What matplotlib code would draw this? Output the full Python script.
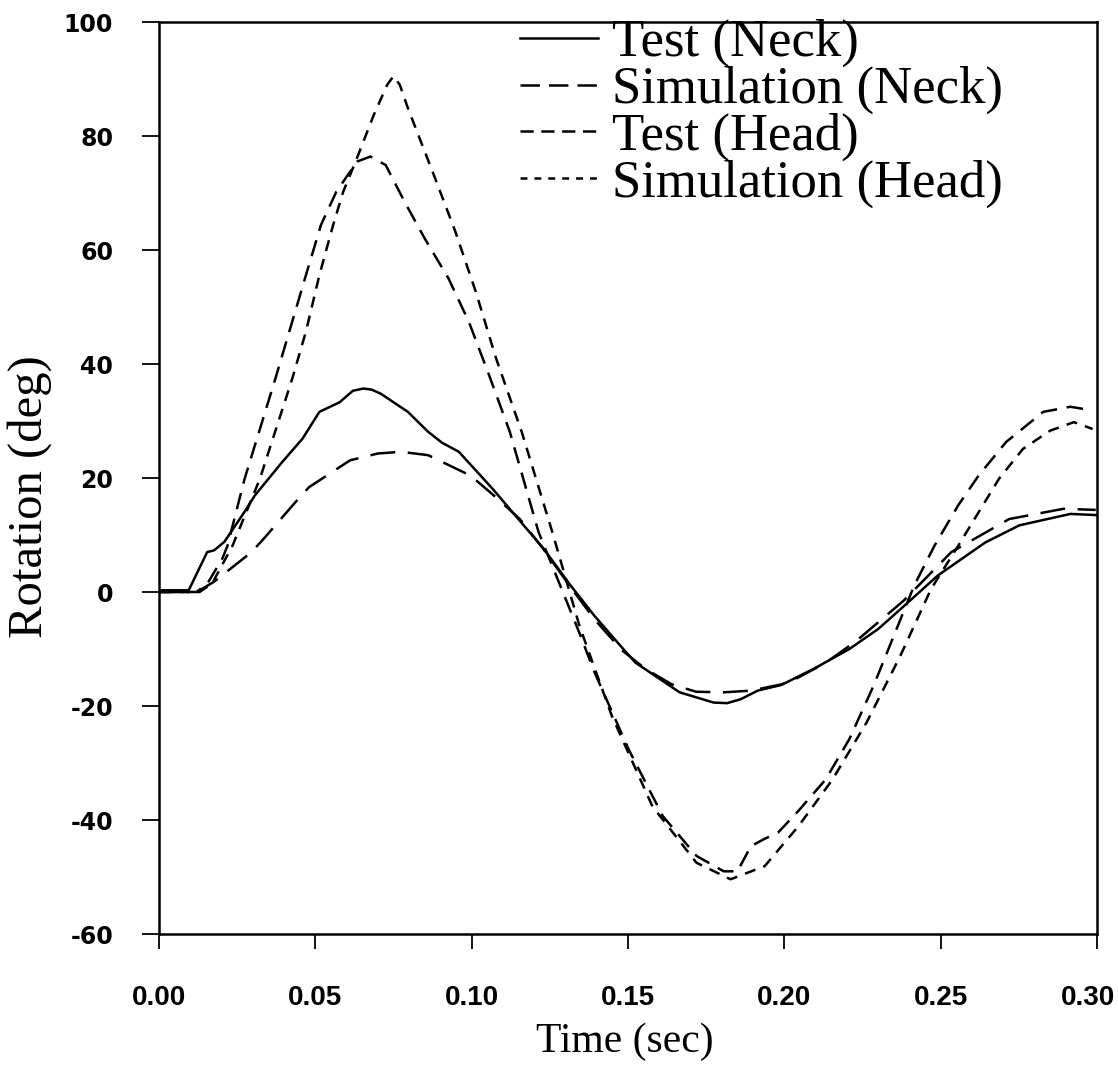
import numpy as np
import matplotlib
matplotlib.use("Agg")
import matplotlib.pyplot as plt
import matplotlib.transforms as mtransforms
from matplotlib.font_manager import FontProperties
from matplotlib.lines import Line2D

plt.rcParams['lines.scale_dashes'] = False

# ---------------- data ----------------
test_neck_t = [0.000, 0.0095, 0.0154, 0.0176, 0.0209, 0.0274, 0.0306, 0.0394, 0.0459, 0.0513,
               0.0578, 0.0620, 0.0654, 0.0680, 0.0709, 0.0796, 0.0861, 0.0905, 0.0959, 0.1067,
               0.1154, 0.1230, 0.1317, 0.1393, 0.1480, 0.1524, 0.1665, 0.1774, 0.1817, 0.1861,
               0.1915, 0.1991, 0.2100, 0.2208, 0.2300, 0.2382, 0.2491, 0.2643, 0.2752, 0.2915,
               0.2996]
test_neck_v = [0.3, 0.3, 7.0, 7.3, 8.8, 14.1, 16.9, 22.8, 26.9, 31.6,
               33.3, 35.3, 35.7, 35.5, 34.8, 31.6, 28.1, 26.2, 24.6, 18.1,
               12.5, 7.6, 1.1, -4.2, -9.7, -12.4, -17.6, -19.4, -19.5, -18.8,
               -17.3, -16.3, -13.3, -10.0, -6.5, -2.5, 2.9, 8.7, 11.7, 13.7,
               13.5]

sim_neck_t = [0.000, 0.0121, 0.0176, 0.0296, 0.0339, 0.0437, 0.0480, 0.0611, 0.0700, 0.0774,
              0.0861, 0.0997, 0.1080, 0.1154, 0.1230, 0.1317, 0.1393, 0.1480, 0.1556, 0.1640,
              0.1718, 0.1806, 0.1894, 0.1991, 0.2024, 0.2130, 0.2230, 0.2382, 0.2534, 0.2719,
              0.2893, 0.2996]
sim_neck_v = [0.0, 0.0, 1.8, 7.0, 9.6, 15.8, 18.4, 23.1, 24.3, 24.6,
              24.0, 20.4, 16.5, 12.8, 7.5, 0.8, -4.8, -10.2, -13.5, -16.2,
              -17.5, -17.6, -17.3, -16.2, -15.6, -12.5, -8.6, -1.5, 7.0, 12.8,
              14.6, 14.4]

test_head_t = [0.000, 0.0120, 0.0155, 0.0202, 0.0219, 0.0274, 0.0372, 0.0470, 0.0518, 0.0567,
               0.0633, 0.0676, 0.0725, 0.0785, 0.0850, 0.0926, 0.0991, 0.1056, 0.1122, 0.1214,
               0.1344, 0.1393, 0.1502, 0.1611, 0.1719, 0.1806, 0.1850, 0.1893, 0.1937, 0.1980,
               0.2045, 0.2132, 0.2208, 0.2285, 0.2350, 0.2415, 0.2480, 0.2556, 0.2621, 0.2709,
               0.2828, 0.2915, 0.2980]
test_head_v = [0.0, 0.0, 1.5, 5.8, 8.1, 19.9, 37.4, 55.6, 64.4, 70.2,
               75.5, 76.4, 74.9, 68.5, 62.0, 55.0, 47.4, 38.0, 28.1, 10.5,
               -7.1, -14.1, -27.6, -39.3, -46.3, -49.0, -49.0, -44.6, -43.3, -42.2,
               -38.4, -32.9, -25.8, -16.5, -7.7, 1.1, 8.1, 15.2, 20.4, 26.3,
               31.6, 32.5, 31.9]

sim_head_t = [0.000, 0.0130, 0.0170, 0.0235, 0.0323, 0.0426, 0.0470, 0.0513, 0.0557, 0.0589,
              0.0633, 0.0687, 0.0730, 0.0750, 0.0770, 0.0796, 0.0883, 0.0948, 0.1013, 0.1078,
              0.1160, 0.1258, 0.1345, 0.1448, 0.1578, 0.1719, 0.1828, 0.1937, 0.2045, 0.2154,
              0.2263, 0.2371, 0.2469, 0.2556, 0.2687, 0.2763, 0.2850, 0.2926, 0.2986]
sim_head_v = [0.0, 0.0, 1.5, 8.1, 19.9, 37.4, 45.7, 55.6, 64.4, 70.2,
              76.1, 83.7, 89.0, 90.5, 89.0, 84.9, 72.6, 63.2, 52.7, 41.0,
              28.1, 10.5, -6.0, -21.7, -37.6, -47.5, -50.4, -48.1, -41.1, -32.9,
              -22.9, -11.2, 0.5, 8.1, 19.9, 25.1, 28.3, 29.8, 28.6]

series_labels = ["Test (Neck)", "Simulation (Neck)", "Test (Head)", "Simulation (Head)"]
x_ticks = [0.00, 0.05, 0.10, 0.15, 0.20, 0.25, 0.30]
x_tick_labels = ["0.00", "0.05", "0.10", "0.15", "0.20", "0.25", "0.30"]
y_ticks = [-60, -40, -20, 0, 20, 40, 60, 80, 100]
y_tick_labels = ["-60", "-40", "-20", "0", "20", "40", "60", "80", "100"]

# ---------------- figure ----------------
W, H = 1118, 1070
fig = plt.figure(figsize=(W / 100, H / 100), dpi=100)
L, R, T, B = 159, 1097, 22, 934
ax = fig.add_axes([L / W, 1 - B / H, (R - L) / W, (B - T) / H])

lw = 1.8
styles = [dict(linestyle='-'),
          dict(dashes=(18, 9)),
          dict(dashes=(12, 7)),
          dict(dashes=(8, 6))]
series = [(test_neck_t, test_neck_v), (sim_neck_t, sim_neck_v),
          (test_head_t, test_head_v), (sim_head_t, sim_head_v)]
for (tt, vv), st in zip(series, styles):
    ax.plot(tt, vv, color='black', lw=lw, **st)

ax.set_xlim(0, 0.30)
ax.set_ylim(-60, 100)
ax.set_xticks(x_ticks)
ax.set_xticklabels(x_tick_labels)
ax.set_yticks(y_ticks)
ax.set_yticklabels(y_tick_labels)

for sp in ax.spines.values():
    sp.set_linewidth(1.8)

ax.tick_params(axis='y', direction='out', length=12, width=1.3, pad=21)
ax.tick_params(axis='x', direction='out', length=11, width=1.3, pad=26)
for lab in ax.get_yticklabels():
    lab.set_fontproperties(FontProperties(family='DejaVu Sans', weight='bold', size=17))
for lab in ax.get_xticklabels():
    lab.set_fontproperties(FontProperties(family='Liberation Sans', weight='bold', size=20))
# keep the last x tick label inside the figure, as in the reference
last = ax.xaxis.get_major_ticks()[-1].label1
last.set_transform(last.get_transform() +
                   mtransforms.ScaledTranslation(-9 / 100, 0, fig.dpi_scale_trans))

ax.set_xlabel("Time (sec)", fontproperties=FontProperties(family='Liberation Serif', size=30), va='center')
ax.xaxis.set_label_coords((625 - L) / (R - L), (B - 1042) / (B - T))
ax.set_ylabel("Rotation (deg)", fontproperties=FontProperties(family='Liberation Serif', size=35), va='center')
ax.yaxis.set_label_coords((30 - L) / (R - L), (B - 497) / (B - T))

# legend (proxy handles with the legend's dash lengths)
leg_styles = [dict(linestyle='-'),
              dict(dashes=(14, 6.5)),
              dict(dashes=(9.5, 5.5)),
              dict(dashes=(5, 5))]
handles = [Line2D([], [], color='black', lw=lw, **st) for st in leg_styles]
fs = 38
em = fs * 100 / 72
leg = ax.legend(handles, series_labels, loc='upper left',
                bbox_to_anchor=(520 / W, 1 - 19 / H), bbox_transform=fig.transFigure,
                frameon=False, prop=FontProperties(family='Liberation Serif', size=fs),
                handlelength=78 / em, handletextpad=14 / em, labelspacing=-0.025,
                borderpad=0, borderaxespad=0)

fig.savefig("out.png", dpi=100)
